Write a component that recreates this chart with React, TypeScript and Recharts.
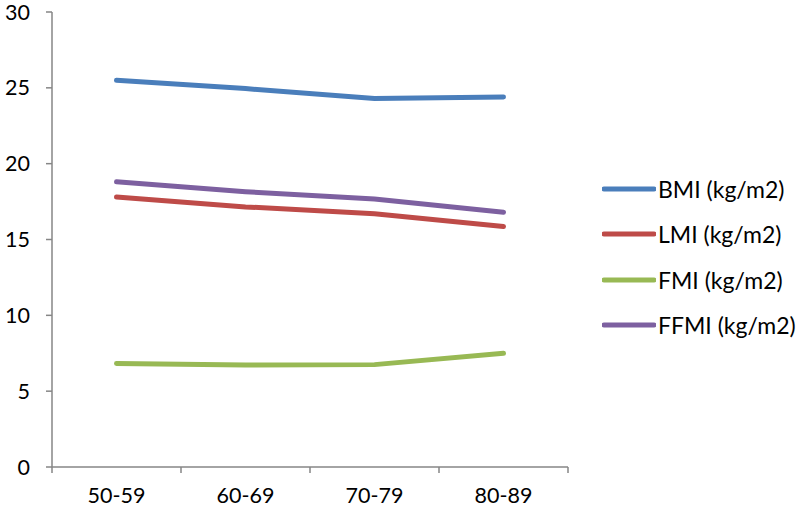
import React from 'react';
import { LineChart, Line, XAxis, YAxis, Legend } from 'recharts';

const categories = ['50-59', '60-69', '70-79', '80-89'];
const bmi = [25.5, 24.95, 24.3, 24.4];
const lmi = [17.8, 17.15, 16.7, 15.85];
const fmi = [6.83, 6.72, 6.75, 7.5];
const ffmi = [18.8, 18.15, 17.67, 16.8];
const yTicks = [0, 5, 10, 15, 20, 25, 30];

const seriesDefs = [
  { key: 'bmi', name: 'BMI (kg/m2)', color: '#4A7EBB', values: bmi },
  { key: 'lmi', name: 'LMI (kg/m2)', color: '#BE4B48', values: lmi },
  { key: 'fmi', name: 'FMI (kg/m2)', color: '#98B954', values: fmi },
  { key: 'ffmi', name: 'FFMI (kg/m2)', color: '#7D60A0', values: ffmi },
];

const data = categories.map((c, i) => {
  const row: Record<string, string | number> = { cat: c };
  seriesDefs.forEach((s) => {
    row[s.key] = s.values[i];
  });
  return row;
});

const FONT = 'Lato, "Open Sans", sans-serif';
const AXIS = '#868686';

const LegendContent = (props: any) => {
  const payload = [...(props.payload || [])];
  const order = seriesDefs.map((s) => s.name);
  payload.sort((a: any, b: any) => order.indexOf(a.value) - order.indexOf(b.value));
  return (
    <div style={{ fontFamily: FONT, fontSize: 23, color: '#000' }}>
      {payload.map((p: any) => (
        <div key={p.value} style={{ display: 'flex', alignItems: 'center', height: 45.5 }}>
          <svg width={54} height={10} style={{ display: 'block' }}>
            <line x1={2} y1={5} x2={52} y2={5} stroke={p.color} strokeWidth={5} strokeLinecap="round" />
          </svg>
          <span style={{ marginLeft: 2, whiteSpace: 'nowrap' }}>{p.value}</span>
        </div>
      ))}
    </div>
  );
};

const CatTick = (props: any) => {
  const { x, y, payload, index, visibleTicksCount } = props;
  const half = payload && payload.offset ? payload.offset : 0;
  const axisY = y - 21;
  const isLast = index === (visibleTicksCount || categories.length) - 1;
  return (
    <g>
      <line x1={x - half} y1={axisY} x2={x - half} y2={axisY + 6} stroke={AXIS} strokeWidth={1.5} />
      {isLast && (
        <line x1={x + half} y1={axisY} x2={x + half} y2={axisY + 6} stroke={AXIS} strokeWidth={1.5} />
      )}
      <text x={x} y={y} dy="0.71em" textAnchor="middle" fill="#000" fontSize={21.5} fontFamily={FONT}>
        {payload.value}
      </text>
    </g>
  );
};

export default function App() {
  return (
    <div style={{ position: 'absolute', left: 0, top: 0, width: 800, height: 511, background: '#fff' }}>
      <LineChart
        width={800}
        height={511}
        data={data}
        margin={{ top: 12, right: 232, bottom: 0, left: 0 }}
      >
        <XAxis
          dataKey="cat"
          scale="band"
          height={44}
          axisLine={{ stroke: AXIS, strokeWidth: 1.5 }}
          tickLine={false}
          tickSize={6}
          tickMargin={15}
          tick={<CatTick />}
          interval={0}
        />
        <YAxis
          domain={[0, 30]}
          ticks={yTicks}
          width={52}
          axisLine={{ stroke: AXIS, strokeWidth: 1.5 }}
          tickLine={{ stroke: AXIS, strokeWidth: 1.5 }}
          tickSize={6}
          tickMargin={16}
          tick={{ fill: '#000', fontSize: 21.5, fontFamily: FONT }}
          interval={0}
        />
        <Legend
          layout="horizontal"
          verticalAlign="middle"
          align="center"
          content={<LegendContent />}
          wrapperStyle={{ left: 602, top: 166, width: 198 }}
        />
        {seriesDefs.map((s) => (
          <Line
            key={s.key}
            type="linear"
            dataKey={s.key}
            name={s.name}
            stroke={s.color}
            strokeWidth={5}
            dot={false}
            activeDot={false}
            strokeLinecap="round"
            isAnimationActive={false}
          />
        ))}
      </LineChart>
    </div>
  );
}
